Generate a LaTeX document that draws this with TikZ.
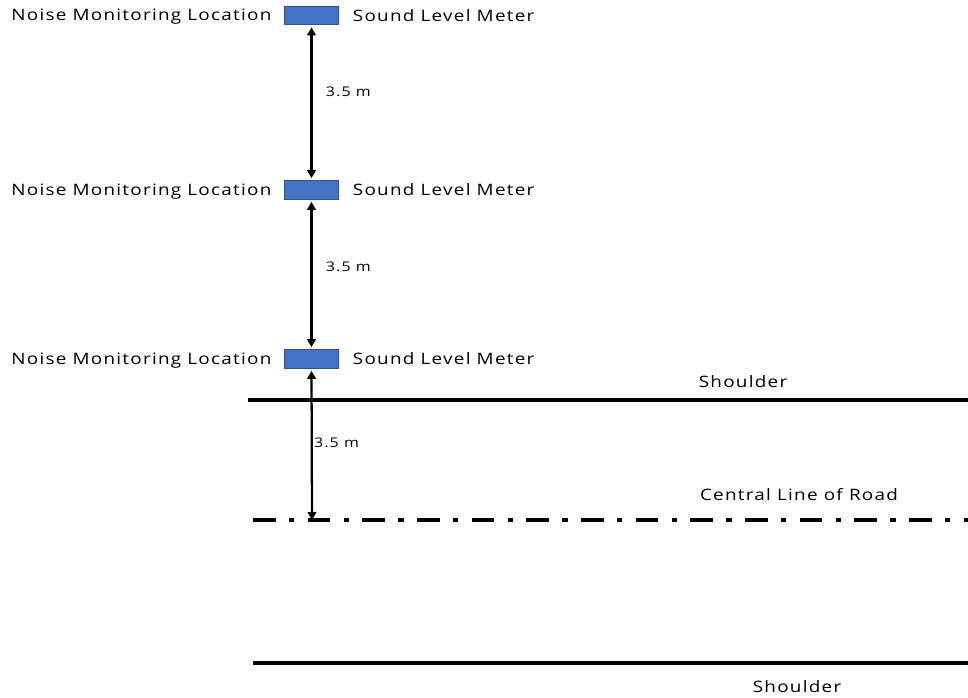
\documentclass[tikz,border=0pt]{standalone}
\usepackage{fontspec}
\setmainfont{Open Sans}[FakeStretch=1.2,LetterSpace=8]
\usetikzlibrary{arrows.meta}
\definecolor{boxblue}{HTML}{4472C4}
\definecolor{boxedge}{HTML}{2F528F}
\begin{document}
\begin{tikzpicture}[x=0.75pt,y=-0.75pt,
  meter/.style={draw=boxedge,fill=boxblue,line width=0.8pt,minimum width=41pt,minimum height=14pt,inner sep=0pt},
  lbl/.style={font=\fontsize{11.8}{14}\selectfont,inner sep=0pt},
  small/.style={font=\fontsize{10}{12}\selectfont,inner sep=0pt},
  dim/.style={line width=1.7pt,{Triangle[length=6pt,width=6.5pt]}-{Triangle[length=6pt,width=6.5pt]}},
  road/.style={line width=2.5pt}]
\useasboundingbox (0,0) rectangle (968,697);
\node[meter] (b1) at (311.5,15.5) {};
\node[meter] (b2) at (311.5,190) {};
\node[meter] (b3) at (311.5,359) {};
\node[lbl,anchor=east] (nb1) at ([xshift=-9pt,yshift=-0.5pt]b1.west) {Noise Monitoring Location};
\node[lbl,anchor=east] (nb2) at ([xshift=-9pt,yshift=-1.5pt]b2.west) {Noise Monitoring Location};
\node[lbl,anchor=east] (nb3) at ([xshift=-9pt,yshift=-1.5pt]b3.west) {Noise Monitoring Location};
\foreach \b in {b1,b2,b3}{
  \node[lbl,anchor=west] (s\b) at ([xshift=10pt]\b.east) {Sound Level Meter};
}
\coordinate (sh1a) at (248,400);
\coordinate (sh1b) at (968,400);
\coordinate (cla) at (253,520);
\coordinate (clb) at (968,520);
\coordinate (sh2a) at (253,663);
\coordinate (sh2b) at (968,663);
\coordinate (c3) at (312,520);
\draw[road] (sh1a) -- (sh1b);
\draw[road,dash pattern=on 17pt off 10pt on 4pt off 10pt] (cla) -- (clb);
\draw[road] (sh2a) -- (sh2b);
\node[lbl] (t1) at (743,382) {Shoulder};
\node[lbl] (t2) at (799,495) {Central Line of Road};
\node[lbl] (t3) at (797,687) {Shoulder};
\draw[dim] ([yshift=-1.5pt]b1.south) -- ([yshift=1.5pt]b2.north) node[small,pos=0.43,anchor=west,xshift=10pt] {3.5 m};
\draw[dim] ([yshift=-1.5pt]b2.south) -- ([yshift=1.5pt]b3.north) node[small,pos=0.45,anchor=west,xshift=10pt] {3.5 m};
\draw[dim] ([yshift=-1.5pt]b3.south) -- (c3) node[small,pos=0.48,anchor=west,xshift=1pt] {3.5 m};
\end{tikzpicture}
\end{document}
